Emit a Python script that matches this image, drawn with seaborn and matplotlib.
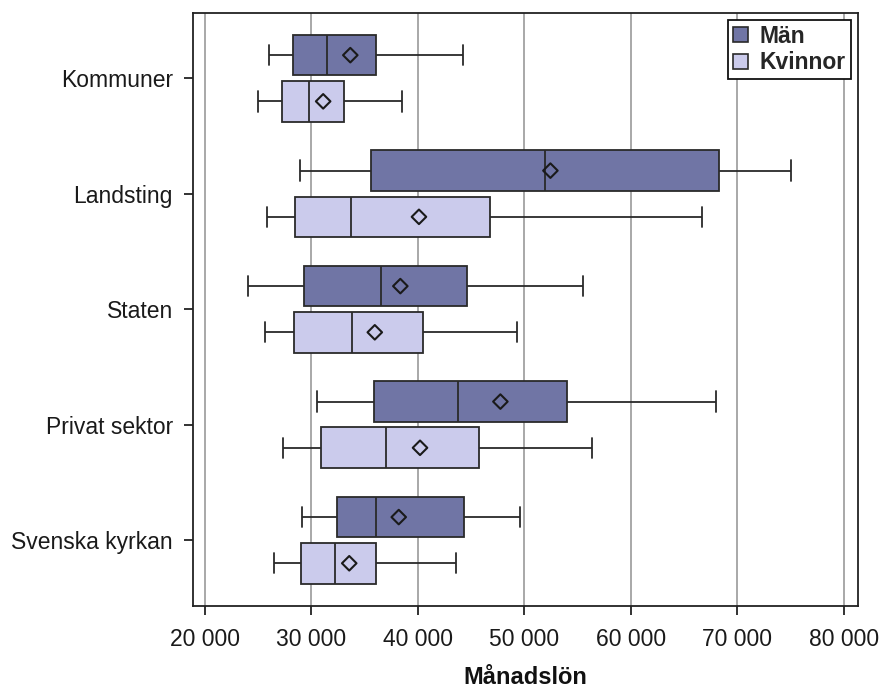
import numpy as np
import pandas as pd
import matplotlib
matplotlib.use("Agg")
import matplotlib.pyplot as plt
from matplotlib.patches import Patch
import seaborn as sns

# ---- data ----
sectors = ["Kommuner", "Landsting", "Staten", "Privat sektor", "Svenska kyrkan"]
genders = ["Män", "Kvinnor"]

# five-number summaries per sector: [min whisker, Q1, median, Q3, max whisker]
man_low    = [26000, 28900, 24000, 30500, 29100]
man_q1     = [28300, 35600, 29300, 35900, 32400]
man_median = [31500, 51900, 36550, 43750, 36100]
man_q3     = [36100, 68250, 44650, 54050, 44350]
man_high   = [44250, 75100, 55550, 68050, 49600]
man_mean   = [33650, 52450, 38350, 47750, 38200]

kv_low    = [25000, 25800, 25650, 27350, 26500]
kv_q1     = [27250, 28450, 28350, 30900, 29050]
kv_median = [29800, 33750, 33850, 37000, 32250]
kv_q3     = [33050, 46800, 40500, 45750, 36100]
kv_high   = [38550, 66650, 49350, 56400, 43600]
kv_mean   = [31100, 40100, 35950, 40200, 33550]

xticks = [20000, 30000, 40000, 50000, 60000, 70000, 80000]
xticklabels = ["20 000", "30 000", "40 000", "50 000", "60 000", "70 000", "80 000"]

# ---- build long-form table: five values per group reproduce the box stats ----
rows = []
for i, s in enumerate(sectors):
    for g, arrs in (("Män", (man_low, man_q1, man_median, man_q3, man_high)),
                    ("Kvinnor", (kv_low, kv_q1, kv_median, kv_q3, kv_high))):
        for a in arrs:
            rows.append({"Sektor": s, "Kön": g, "Månadslön": a[i]})
df = pd.DataFrame(rows)

mean_rows = []
for i, s in enumerate(sectors):
    mean_rows.append({"Sektor": s, "Kön": "Män", "pos": i - 0.2, "Medel": man_mean[i]})
    mean_rows.append({"Sektor": s, "Kön": "Kvinnor", "pos": i + 0.2, "Medel": kv_mean[i]})
dfm = pd.DataFrame(mean_rows)

palette = {"Män": "#7075A5", "Kvinnor": "#CBCBEC"}
edge = "#2a2a2a"

sns.set_theme(style="white")
plt.rcParams["font.family"] = ["Liberation Sans", "DejaVu Sans"]

fig = plt.figure(figsize=(8.82, 6.89), dpi=100)
ax = fig.add_axes([193 / 882, 1 - 606 / 689, (858 - 193) / 882, (606 - 13) / 689])

sns.boxplot(data=df, x="Månadslön", y="Sektor", hue="Kön", order=sectors,
            hue_order=genders, palette=palette, saturation=1, orient="h",
            width=0.8, gap=0.12, whis=(0, 100), linecolor=edge, linewidth=1.3,
            showfliers=False, legend=False, ax=ax, zorder=3)

sns.scatterplot(data=dfm, x="Medel", y="pos", marker="D", s=55,
                facecolor="none", edgecolor="#1a1a1a", linewidth=1.5,
                legend=False, ax=ax, zorder=5)

ax.set_xlim(18870, 81350)
ax.set_ylim(4.57, -0.565)
ax.set_yticks(range(len(sectors)))
ax.set_yticklabels(sectors)
ax.set_xticks(xticks)
ax.set_xticklabels(xticklabels)

ax.grid(axis="x", color="#a8a8a8", linewidth=1.4, zorder=0)
ax.grid(axis="y", visible=False)
ax.set_axisbelow(True)
for sp in ax.spines.values():
    sp.set_visible(True)
    sp.set_color("#222222")
    sp.set_linewidth(1.3)

ax.tick_params(axis="both", which="major", direction="out", length=6.5, width=1.3,
               color="#222222", labelsize=16.5, labelcolor="#1a1a1a",
               left=True, bottom=True)
ax.tick_params(axis="y", pad=8)
ax.tick_params(axis="x", pad=9)

ax.set_ylabel("")
ax.set_xlabel("Månadslön", fontsize=17, fontweight="bold", color="#111111", labelpad=11)

handles = [Patch(facecolor=palette[g], edgecolor=edge, linewidth=1.2) for g in genders]
leg = ax.legend(handles, genders, loc="upper right", bbox_to_anchor=(0.9895, 0.9885),
                frameon=True, fancybox=False, framealpha=1, edgecolor="#111111",
                prop={"size": 16.5, "weight": "bold"}, handlelength=0.65, handleheight=0.65,
                handletextpad=0.5, borderpad=0.22, labelspacing=0.15, borderaxespad=0)
leg.get_frame().set_linewidth(1.3)

fig.savefig("out.png", dpi=100)
